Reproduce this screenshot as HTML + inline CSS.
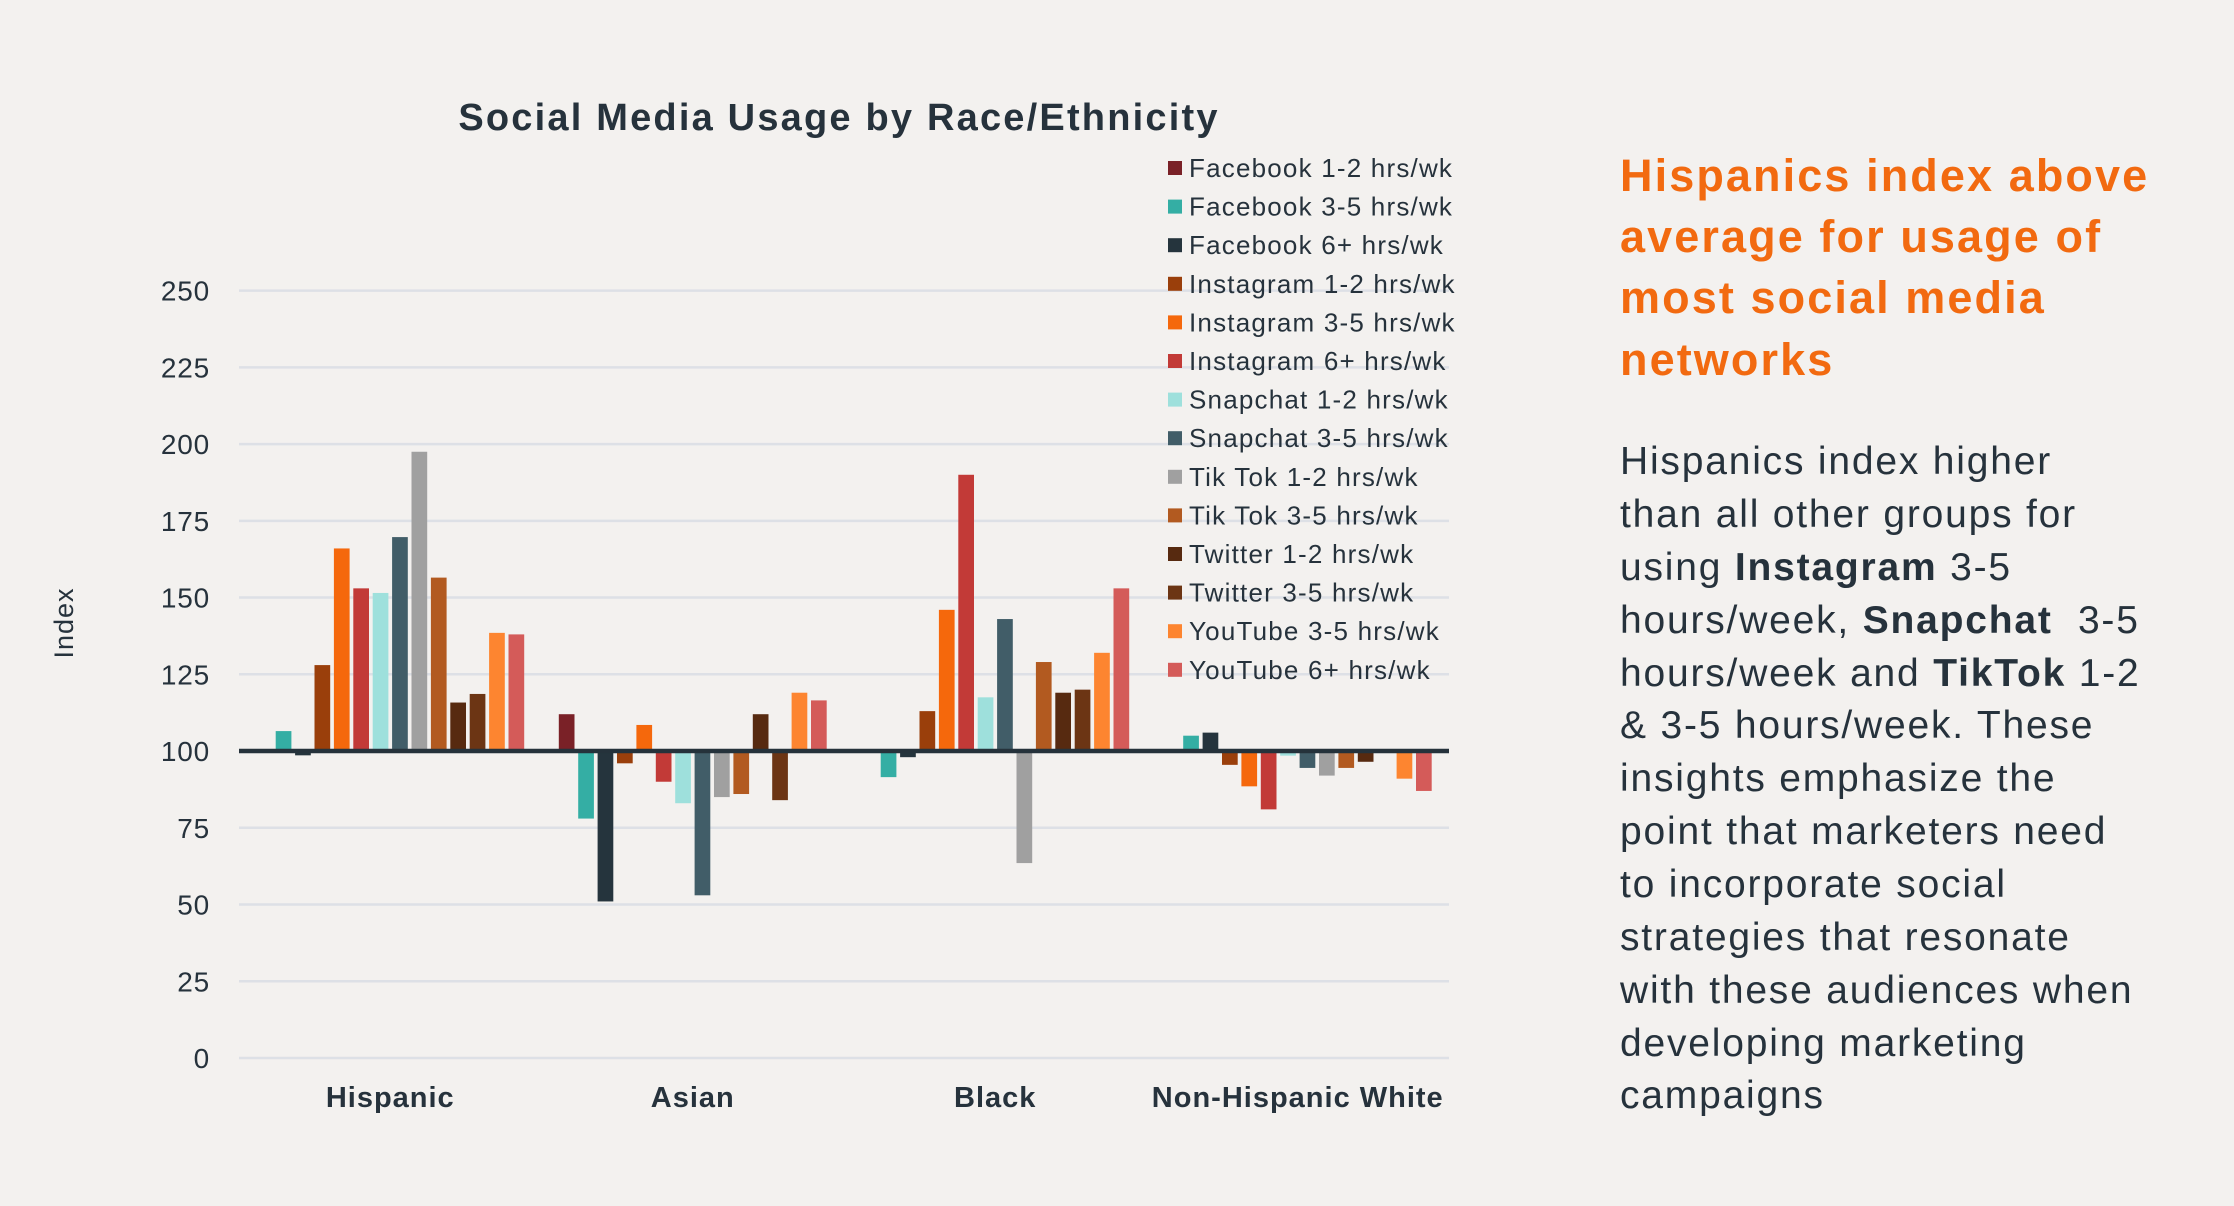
<!DOCTYPE html>
<html><head><meta charset="utf-8"><style>
html,body{margin:0;padding:0;background:#f3f1ef;}
body{width:2234px;height:1206px;position:relative;overflow:hidden;font-family:"Liberation Sans",sans-serif;}
.hl{position:absolute;left:1620px;font-weight:bold;color:#f26a10;font-size:45px;white-space:nowrap;letter-spacing:2.1px;}
.bl{position:absolute;left:1620px;color:#26323c;font-size:39px;white-space:nowrap;letter-spacing:1.8px;}
</style></head><body>
<svg id="chart" width="1560" height="1206" style="position:absolute;left:0;top:0" xmlns="http://www.w3.org/2000/svg"></svg>
<div>
<div class="hl" style="top:150px">Hispanics index above</div>
<div class="hl" style="top:211px">average for usage of</div>
<div class="hl" style="top:272px">most social media</div>
<div class="hl" style="top:334px">networks</div>
</div>
<div>
<div class="bl" style="top:440px">Hispanics index higher</div>
<div class="bl" style="top:493px">than all other groups for</div>
<div class="bl" style="top:546px">using <b>Instagram</b> 3-5</div>
<div class="bl" style="top:599px">hours/week, <b>Snapchat</b>&nbsp; 3-5</div>
<div class="bl" style="top:652px">hours/week and <b>TikTok</b> 1-2</div>
<div class="bl" style="top:704px">&amp; 3-5 hours/week. These</div>
<div class="bl" style="top:757px">insights emphasize the</div>
<div class="bl" style="top:810px">point that marketers need</div>
<div class="bl" style="top:863px">to incorporate social</div>
<div class="bl" style="top:916px">strategies that resonate</div>
<div class="bl" style="top:969px">with these audiences when</div>
<div class="bl" style="top:1022px">developing marketing</div>
<div class="bl" style="top:1074px">campaigns</div>
</div>
<script>
const categories = ["Hispanic","Asian","Black","Non-Hispanic White"];
const seriesNames = ["Facebook 1-2 hrs/wk","Facebook 3-5 hrs/wk","Facebook 6+ hrs/wk","Instagram 1-2 hrs/wk","Instagram 3-5 hrs/wk","Instagram 6+ hrs/wk","Snapchat 1-2 hrs/wk","Snapchat 3-5 hrs/wk","Tik Tok 1-2 hrs/wk","Tik Tok 3-5 hrs/wk","Twitter 1-2 hrs/wk","Twitter 3-5 hrs/wk","YouTube 3-5 hrs/wk","YouTube 6+ hrs/wk"];
const seriesColors = ["#7a2127","#34aea4","#25343d","#9a3f0b","#f5680c","#c23a37","#9ee0dc","#415d68","#a0a0a0","#b25a20","#572a10","#6c3514","#fd8530","#d45b59"];
const hispanic = [100,106.5,98.6,128,166,153,151.5,169.7,197.5,156.5,115.8,118.6,138.5,138];
const asian = [112,78,51,96,108.5,90,83,53,85,86,112,84,119,116.5];
const black = [100,91.5,98,113,146,190,117.5,143,63.5,129,119,120,132,153];
const nhw = [100,105,106,95.5,88.5,81,98.5,94.5,92,94.5,96.5,100,91,87];
const yTicks = [0,25,50,75,100,125,150,175,200,225,250];

const values = [hispanic, asian, black, nhw];
const NS = "http://www.w3.org/2000/svg";
const svg = document.getElementById('chart');
const X0 = 239, X1 = 1449, Y0 = 1058, Y250 = 290.6;
const catW = (X1 - X0) / categories.length;
const y = v => Y0 - (v / 250) * (Y0 - Y250);
const pitch = 19.4, barW = 15.7;
const xBar = (c, s) => X0 + catW * (c + 0.5) + (s - (seriesNames.length - 1) / 2) * pitch - barW / 2;
function mk(tag, attrs, text) {
  const e = document.createElementNS(NS, tag);
  for (const k in attrs) e.setAttribute(k, attrs[k]);
  if (text !== undefined) e.textContent = text;
  svg.appendChild(e);
  return e;
}
yTicks.forEach(t => {
  if (t !== 100) {
    const g = mk('line', {x1: X0, x2: X1, y1: y(t), y2: y(t), stroke: '#dde0e6', 'stroke-width': 2.5});
    
    
  }
  const l = mk('text', {x: 210, y: y(t) + 10, 'text-anchor': 'end', 'font-size': 28, 'letter-spacing': 0.8, fill: '#26323c', 'font-family': 'Liberation Sans, sans-serif'}, String(t));
  
  
});
values.forEach((arr, c) => {
  arr.forEach((v, s) => {
    const top = Math.min(y(v), y(100)), h = Math.abs(y(v) - y(100));
    const r = mk('rect', {x: xBar(c, s), y: top, width: barW, height: h, fill: seriesColors[s]});
    
    
  });
  const cl = mk('text', {x: X0 + catW * (c + 0.5), y: 1107, 'text-anchor': 'middle', 'font-size': 29, 'letter-spacing': 1, 'font-weight': 'bold', fill: '#26323c', 'font-family': 'Liberation Sans, sans-serif'}, categories[c]);
  
  
});
const bl = mk('line', {x1: X0, x2: X1, y1: y(100), y2: y(100), stroke: '#25323b', 'stroke-width': 4.5});


const ti = mk('text', {x: 839, y: 130, 'text-anchor': 'middle', 'font-size': 38, 'letter-spacing': 2.2, 'font-weight': 'bold', fill: '#26323c', 'font-family': 'Liberation Sans, sans-serif'}, 'Social Media Usage by Race/Ethnicity');


const yt = mk('text', {x: 0, y: 0, transform: 'translate(73,623) rotate(-90)', 'text-anchor': 'middle', 'font-size': 27, 'letter-spacing': 1, fill: '#26323c', 'font-family': 'Liberation Sans, sans-serif'}, 'Index');


seriesNames.forEach((n, i) => {
  const cy = 168 + i * 38.6;
  const sq = mk('rect', {x: 1168, y: cy - 7, width: 14, height: 14, fill: seriesColors[i]});
  
  
  const lt = mk('text', {x: 1189, y: cy + 9, 'font-size': 26, 'letter-spacing': 1.2, fill: '#26323c', 'font-family': 'Liberation Sans, sans-serif'}, n);
  
  
});
</script>
</body></html>
